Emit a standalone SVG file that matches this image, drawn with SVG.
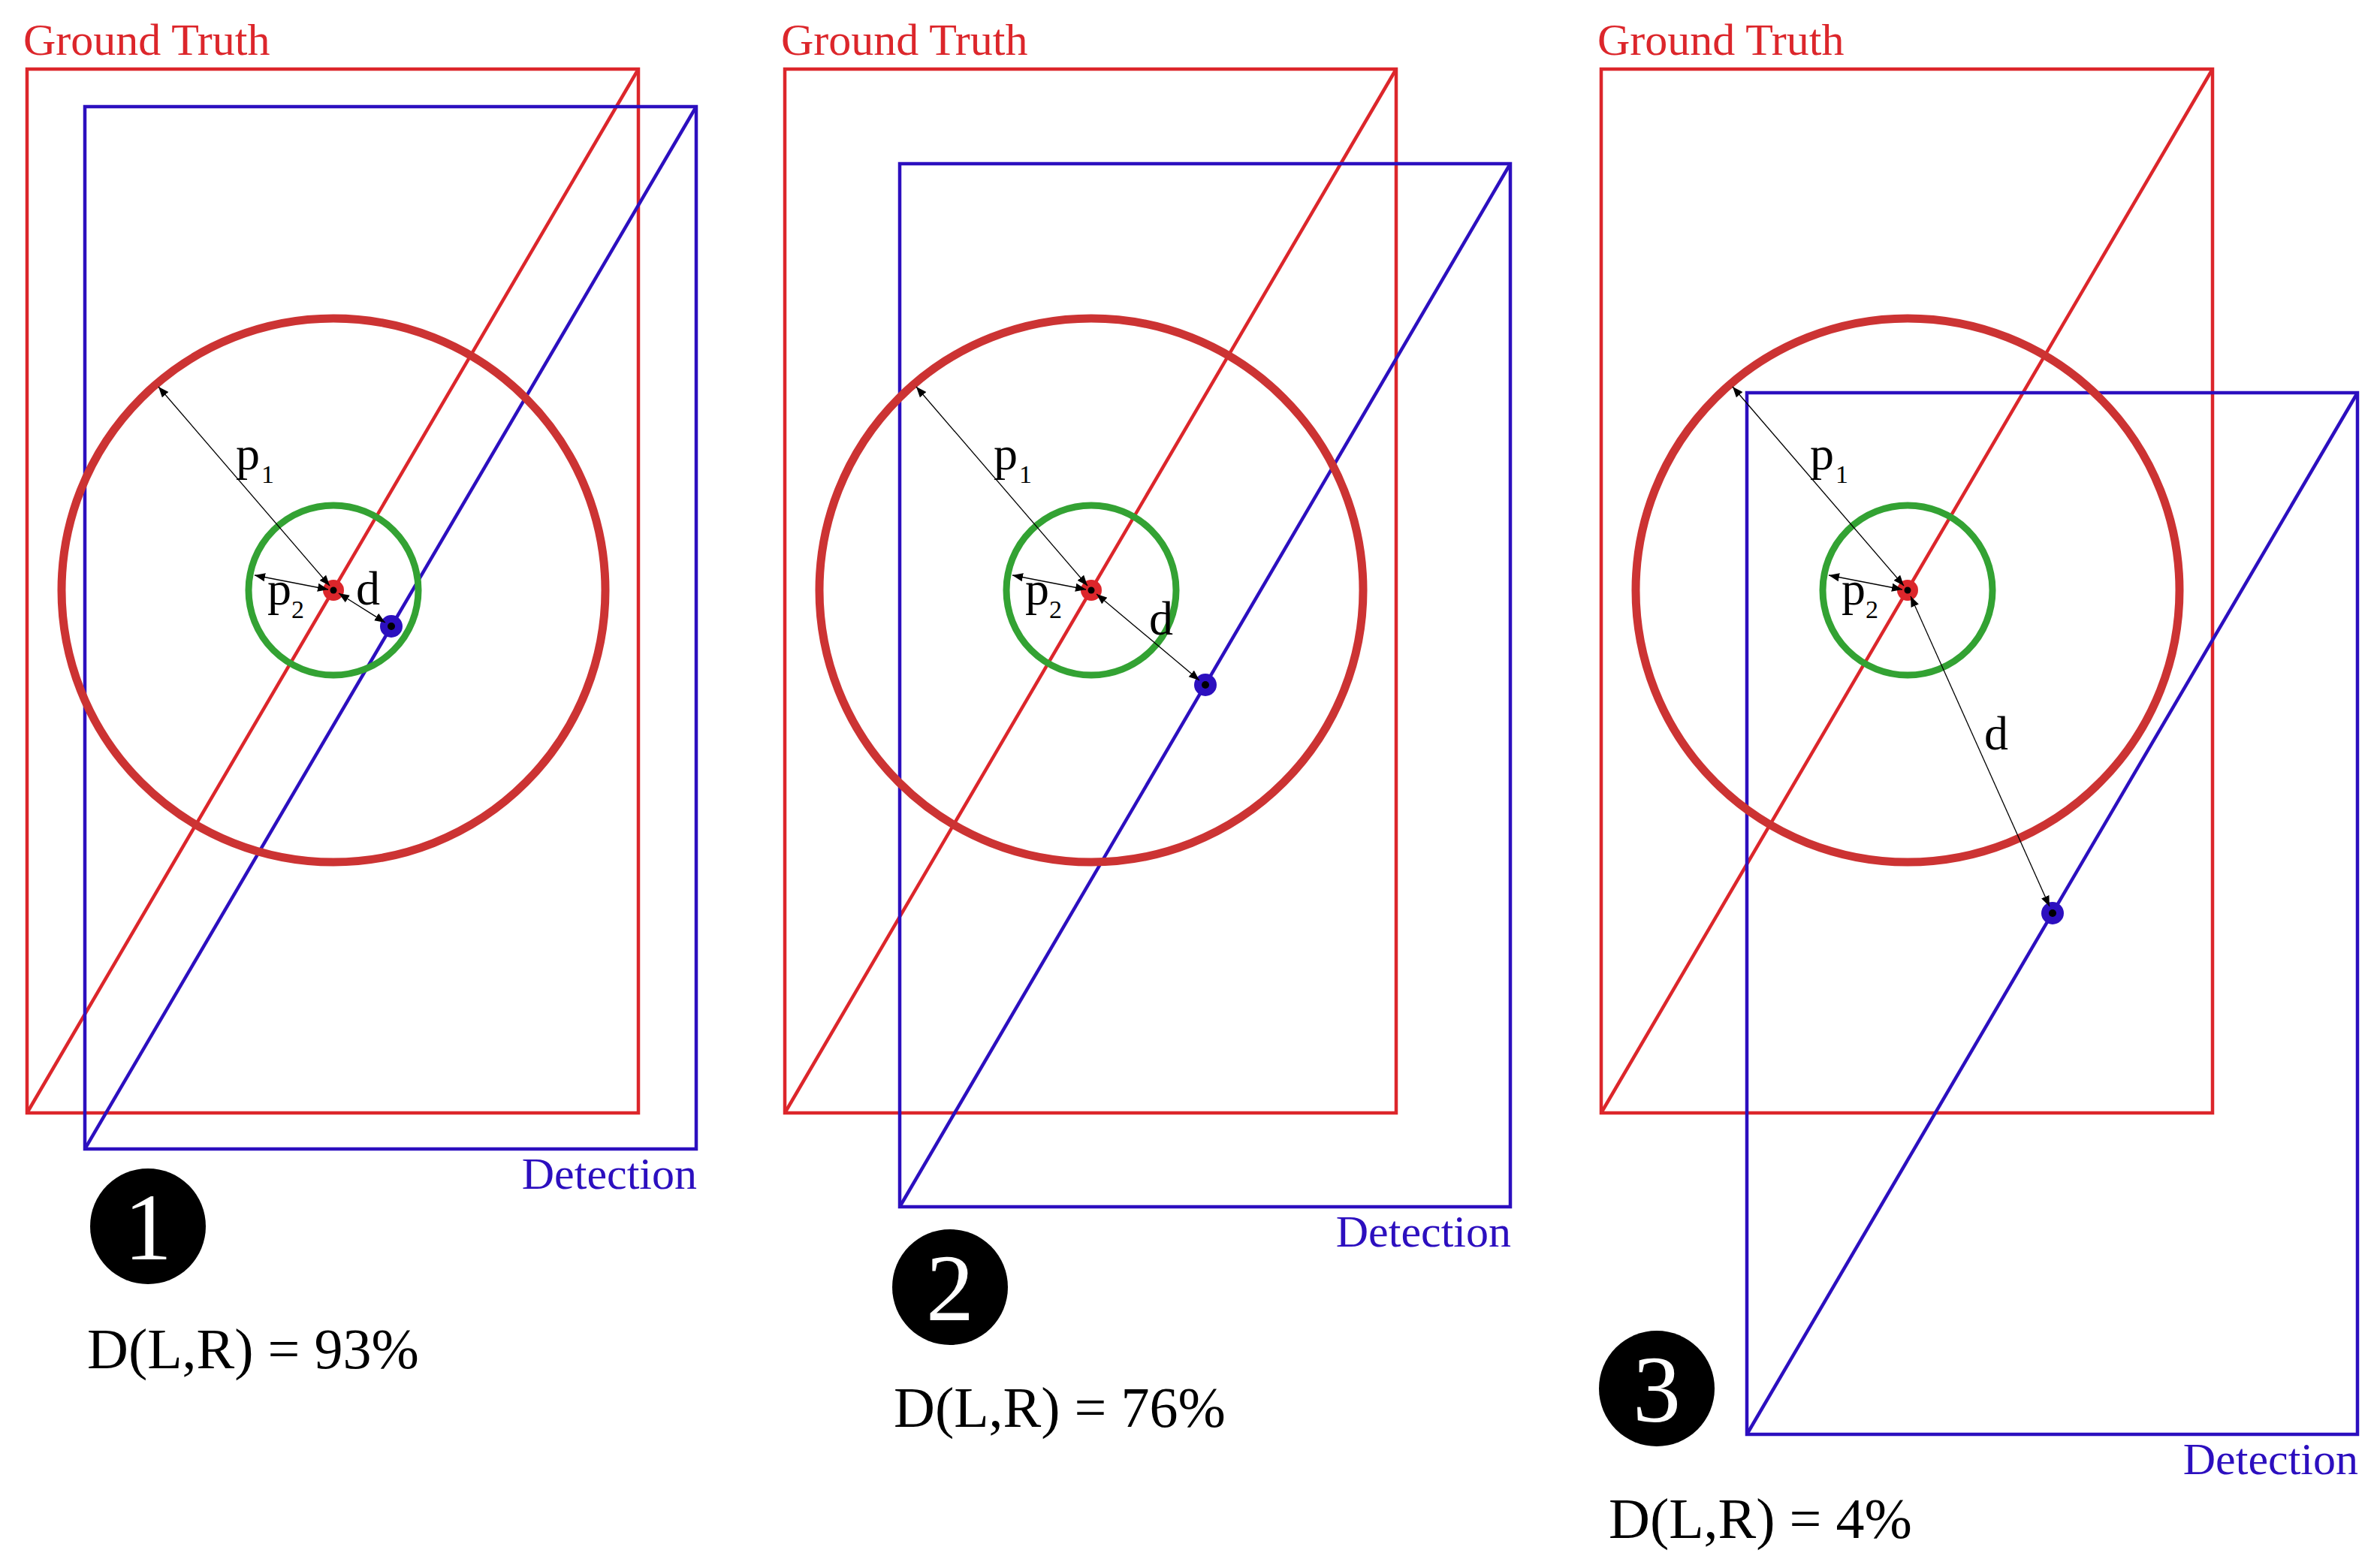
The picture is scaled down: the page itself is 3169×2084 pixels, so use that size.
<svg xmlns="http://www.w3.org/2000/svg" width="3169" height="2084" viewBox="0 0 3169 2084">
<style>
.gt{fill:none;stroke:#dc262b;stroke-width:4.5}
.det{fill:none;stroke:#2c0fbf;stroke-width:4.5}
.big{fill:none;stroke:#cc3333;stroke-width:11}
.grn{fill:none;stroke:#33a233;stroke-width:9}
.arr{stroke:#000;stroke-width:1.3;fill:none;marker-start:url(#ah);marker-end:url(#ah)}
.t{font-family:"Liberation Serif",serif}
.lab{font-family:"Liberation Serif",serif;font-size:64px}
.sub{font-family:"Liberation Serif",serif;font-size:34px}
</style>
<defs>
<marker id="ah" viewBox="0 0 10 10" refX="10" refY="5" markerWidth="14" markerHeight="14" markerUnits="userSpaceOnUse" orient="auto-start-reverse"><path d="M0,1 L10,5 L0,9 Z" fill="#000"/></marker>
</defs>

<g id="panel1-gt">
<text class="t" x="31" y="73" font-size="60" fill="#dc262b">Ground Truth</text>
<rect class="gt" x="36" y="92" width="814" height="1390"/>
<line class="gt" x1="36" y1="1482" x2="850" y2="92"/>
</g>
<g id="panel1-det">
<rect class="det" x="113" y="142" width="814" height="1388"/>
<line class="det" x1="113" y1="1530" x2="927" y2="142"/>
<text class="t" x="928" y="1583" font-size="60" fill="#2c0fbf" text-anchor="end">Detection</text>
</g>
<g id="panel1-circles">
<circle class="big" cx="444" cy="786" r="362"/>
<circle class="grn" cx="444" cy="786" r="113"/>
<circle cx="444" cy="786" r="14" fill="#dc262b"/>
<circle cx="444" cy="786" r="4.5" fill="#000"/>
<circle cx="521" cy="834" r="15" fill="#2c0fbf"/>
<circle cx="521" cy="834" r="5" fill="#000"/>
</g>
<g id="panel1-labels">
<text class="lab" x="314" y="625">p</text><text class="sub" x="348" y="643">1</text>
<text class="lab" x="356" y="805">p</text><text class="sub" x="388" y="823">2</text>
<text class="lab" x="474" y="805">d</text>
<circle cx="197" cy="1633" r="77" fill="#000"/>
<text class="t" x="197" y="1677" font-size="128" fill="#fff" text-anchor="middle">1</text>
<text class="t" x="116" y="1822" font-size="76" fill="#000">D(L,R) = 93%</text>
</g>

<g id="panel2-gt">
<text class="t" x="1040" y="73" font-size="60" fill="#dc262b">Ground Truth</text>
<rect class="gt" x="1045" y="92" width="814" height="1390"/>
<line class="gt" x1="1045" y1="1482" x2="1859" y2="92"/>
</g>
<g id="panel2-det">
<rect class="det" x="1198" y="218" width="813" height="1389"/>
<line class="det" x1="1198" y1="1607" x2="2011" y2="218"/>
<text class="t" x="2012" y="1660" font-size="60" fill="#2c0fbf" text-anchor="end">Detection</text>
</g>
<g id="panel2-circles">
<circle class="big" cx="1453" cy="786" r="362"/>
<circle class="grn" cx="1453" cy="786" r="113"/>
<circle cx="1453" cy="786" r="14" fill="#dc262b"/>
<circle cx="1453" cy="786" r="4.5" fill="#000"/>
<circle cx="1605" cy="912" r="15" fill="#2c0fbf"/>
<circle cx="1605" cy="912" r="5" fill="#000"/>
</g>
<g id="panel2-labels">
<text class="lab" x="1323" y="625">p</text><text class="sub" x="1357" y="643">1</text>
<text class="lab" x="1365" y="805">p</text><text class="sub" x="1397" y="823">2</text>
<text class="lab" x="1530" y="845">d</text>
<circle cx="1265" cy="1714" r="77" fill="#000"/>
<text class="t" x="1265" y="1758" font-size="128" fill="#fff" text-anchor="middle">2</text>
<text class="t" x="1190" y="1900" font-size="76" fill="#000">D(L,R) = 76%</text>
</g>

<g id="panel3-gt">
<text class="t" x="2127" y="73" font-size="60" fill="#dc262b">Ground Truth</text>
<rect class="gt" x="2132" y="92" width="814" height="1390"/>
<line class="gt" x1="2132" y1="1482" x2="2946" y2="92"/>
</g>
<g id="panel3-det">
<rect class="det" x="2326" y="523" width="813" height="1387"/>
<line class="det" x1="2326" y1="1910" x2="3139" y2="523"/>
<text class="t" x="3140" y="1963" font-size="60" fill="#2c0fbf" text-anchor="end">Detection</text>
</g>
<g id="panel3-circles">
<circle class="big" cx="2540" cy="786" r="362"/>
<circle class="grn" cx="2540" cy="786" r="113"/>
<circle cx="2540" cy="786" r="14" fill="#dc262b"/>
<circle cx="2540" cy="786" r="4.5" fill="#000"/>
<circle cx="2733" cy="1216" r="15" fill="#2c0fbf"/>
<circle cx="2733" cy="1216" r="5" fill="#000"/>
</g>
<g id="panel3-labels">
<text class="lab" x="2410" y="625">p</text><text class="sub" x="2444" y="643">1</text>
<text class="lab" x="2452" y="805">p</text><text class="sub" x="2484" y="823">2</text>
<text class="lab" x="2642" y="998">d</text>
<circle cx="2206" cy="1849" r="77" fill="#000"/>
<text class="t" x="2206" y="1893" font-size="128" fill="#fff" text-anchor="middle">3</text>
<text class="t" x="2142" y="2048" font-size="76" fill="#000">D(L,R) = 4%</text>
</g>

<g id="connectors">
<line class="arr" x1="439" y1="780" x2="211" y2="515"/>
<line class="arr" x1="437" y1="785" x2="339" y2="766"/>
<line class="arr" x1="451" y1="790" x2="513" y2="829"/>
<line class="arr" x1="1448" y1="780" x2="1220" y2="515"/>
<line class="arr" x1="1446" y1="785" x2="1348" y2="766"/>
<line class="arr" x1="1460" y1="791" x2="1597" y2="906"/>
<line class="arr" x1="2535" y1="780" x2="2307" y2="515"/>
<line class="arr" x1="2533" y1="785" x2="2435" y2="766"/>
<line class="arr" x1="2544" y1="794" x2="2729" y2="1207"/>
</g>
</svg>
